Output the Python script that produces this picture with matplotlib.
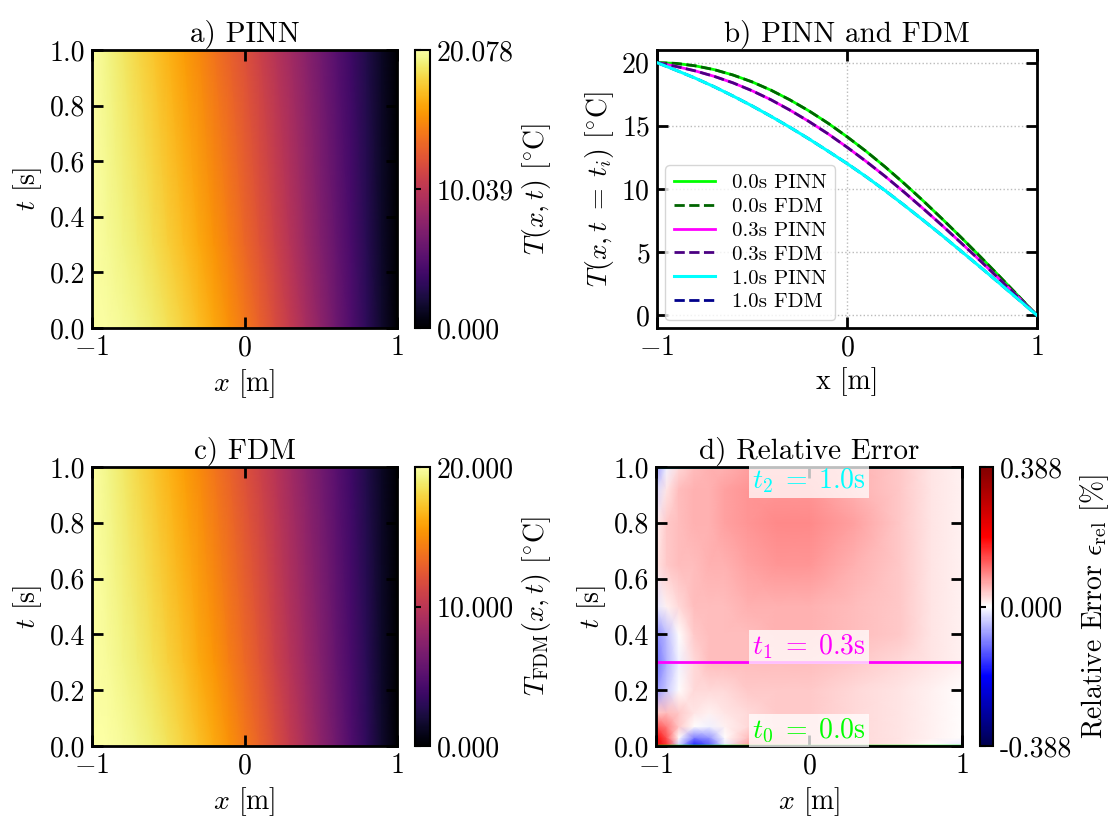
import numpy as np
from matplotlib import pyplot as plt

# temperature profiles T(x, t_i)
x_pts = [-1.0, -0.9, -0.8, -0.7, -0.6, -0.5, -0.4, -0.3, -0.2, -0.1, 0.0,
         0.1, 0.2, 0.3, 0.4, 0.5, 0.6, 0.7, 0.8, 0.9, 1.0]
T_t00 = [20.0, 19.94, 19.75, 19.45, 19.02, 18.48, 17.82, 17.05, 16.18, 15.21, 14.14,
         12.99, 11.76, 10.45, 9.08, 7.65, 6.18, 4.67, 3.13, 1.57, 0.0]
T_t03 = [20.0, 19.70, 19.35, 18.92, 18.40, 17.78, 17.06, 16.24, 15.34, 14.37, 13.31,
         12.19, 11.01, 9.76, 8.46, 7.12, 5.74, 4.34, 2.90, 1.46, 0.0]
T_t10 = [20.0, 19.40, 18.78, 18.10, 17.36, 16.58, 15.75, 14.88, 13.96, 13.00, 12.02,
         10.98, 9.88, 8.73, 7.54, 6.33, 5.09, 3.84, 2.57, 1.29, 0.0]
t_rows = [0.0, 0.3, 1.0]

# relative error field (panel d), rough readout
err_x = [-1.0, -0.93, -0.85, -0.75, -0.65, -0.55, -0.4, -0.2, 0.0, 0.3, 0.6, 0.8, 1.0]
err_t = [0.0, 0.03, 0.07, 0.12, 0.2, 0.3, 0.4, 0.5, 0.65, 0.8, 0.92, 1.0]
err = [
    [0.24, 0.16, -0.04, -0.18, -0.13, -0.02, 0.07, 0.05, 0.04, 0.03, 0.02, 0.00, -0.02],
    [0.20, 0.13, 0.00, -0.10, -0.08, 0.00, 0.05, 0.05, 0.04, 0.03, 0.02, 0.01, 0.00],
    [0.13, 0.10, 0.04, 0.00, -0.01, 0.01, 0.03, 0.04, 0.04, 0.03, 0.02, 0.01, 0.00],
    [0.04, 0.05, 0.04, 0.02, 0.01, 0.02, 0.03, 0.04, 0.04, 0.03, 0.02, 0.01, 0.00],
    [-0.08, -0.04, 0.00, 0.03, 0.03, 0.03, 0.04, 0.04, 0.04, 0.03, 0.02, 0.01, 0.00],
    [-0.11, -0.06, -0.01, 0.03, 0.05, 0.05, 0.05, 0.05, 0.05, 0.04, 0.03, 0.02, 0.01],
    [-0.09, -0.05, 0.00, 0.04, 0.05, 0.05, 0.05, 0.06, 0.06, 0.05, 0.04, 0.02, 0.01],
    [-0.02, 0.01, 0.03, 0.05, 0.05, 0.05, 0.06, 0.06, 0.06, 0.05, 0.04, 0.02, 0.01],
    [0.02, 0.04, 0.05, 0.05, 0.06, 0.06, 0.07, 0.08, 0.08, 0.06, 0.04, 0.02, 0.01],
    [0.01, 0.04, 0.05, 0.06, 0.06, 0.07, 0.08, 0.09, 0.09, 0.07, 0.04, 0.02, 0.01],
    [-0.03, 0.02, 0.05, 0.06, 0.06, 0.07, 0.08, 0.08, 0.08, 0.06, 0.04, 0.02, 0.01],
    [-0.08, -0.01, 0.03, 0.05, 0.06, 0.06, 0.07, 0.07, 0.07, 0.06, 0.04, 0.02, 0.01],
]
err_max = 0.388
pinn_max = 20.078
fdm_max = 20.0

plt.rcParams.update({
    'font.family': ['cmr10', 'DejaVu Serif'],
    'mathtext.fontset': 'cm',
    'axes.formatter.use_mathtext': True,
    'font.size': 20,
    'axes.linewidth': 2,
    'xtick.direction': 'in', 'ytick.direction': 'in',
    'xtick.top': True, 'ytick.right': True,
    'xtick.major.size': 8, 'ytick.major.size': 8,
    'xtick.major.width': 2, 'ytick.major.width': 2,
    'xtick.major.pad': 5, 'ytick.major.pad': 5,
})

fig = plt.figure(figsize=(11.13, 8.18), dpi=100)
W, H = 1113, 818


def box(l, t, r, b):
    return [l / W, 1 - b / H, (r - l) / W, (b - t) / H]


ax_a = fig.add_axes(box(92, 50, 397, 328))
cax_a = fig.add_axes(box(415, 50, 430, 328))
ax_b = fig.add_axes(box(657, 50, 1037, 328))
ax_c = fig.add_axes(box(92, 467, 397, 746))
cax_c = fig.add_axes(box(415, 467, 430, 746))
ax_d = fig.add_axes(box(656, 467, 962, 746))
cax_d = fig.add_axes(box(980, 467, 993, 746))

T_grid = np.array([T_t00, T_t03, T_t10])
t_ticks = [0, 0.2, 0.4, 0.6, 0.8, 1.0]
t_ticklabels = ['0.0', '0.2', '0.4', '0.6', '0.8', '1.0']


def style_cbar(cb, ticks, labels, clabel):
    cb.set_ticks(ticks)
    cb.set_ticklabels(labels)
    cb.outline.set_linewidth(1.5)
    cb.ax.tick_params(direction='in', length=4, width=1.5, left=True, right=False)
    cb.set_label(clabel)


def heat_panel(ax, cax, vmax, title, clabel, ticklabels):
    m = ax.pcolormesh(x_pts, t_rows, T_grid, shading='gouraud', cmap='inferno',
                      vmin=0, vmax=vmax, rasterized=True)
    ax.set_xlim(-1, 1)
    ax.set_ylim(0, 1)
    ax.set_xticks([-1, 0, 1])
    ax.set_yticks(t_ticks)
    ax.set_yticklabels(t_ticklabels)
    ax.set_xlabel(r'$x$ [m]')
    ax.set_ylabel(r'$t$ [s]')
    ax.set_title(title, fontsize=21)
    cb = fig.colorbar(m, cax=cax)
    style_cbar(cb, [0, vmax / 2, vmax], ticklabels, clabel)


heat_panel(ax_a, cax_a, pinn_max, 'a) PINN', r'$T(x,t)$ [$^{\circ}$C]',
           ['0.000', '10.039', '20.078'])
heat_panel(ax_c, cax_c, fdm_max, 'c) FDM', r'$T_{\rm FDM}(x,t)$ [$^{\circ}$C]',
           ['0.000', '10.000', '20.000'])

# panel b
ax_b.plot(x_pts, T_t00, color='lime', lw=2, label='0.0s PINN')
ax_b.plot(x_pts, T_t00, color='darkgreen', lw=2, ls='--', label='0.0s FDM')
ax_b.plot(x_pts, T_t03, color='magenta', lw=2, label='0.3s PINN')
ax_b.plot(x_pts, T_t03, color='indigo', lw=2, ls='--', label='0.3s FDM')
ax_b.plot(x_pts, T_t10, color='cyan', lw=2.2, label='1.0s PINN', zorder=4)
ax_b.plot(x_pts, T_t10, color='darkblue', lw=2, ls='--', label='1.0s FDM', zorder=3)
ax_b.set_xlim(-1, 1)
ax_b.set_ylim(-1, 21)
ax_b.set_xticks([-1, 0, 1])
ax_b.set_yticks([0, 5, 10, 15, 20])
ax_b.grid(True, ls=':', color='#bbbbbb', lw=1)
ax_b.set_xlabel('x [m]')
ax_b.set_ylabel(r'$T(x,t\;=\;t_i)$ [$^{\circ}$C]')
ax_b.set_title('b) PINN and FDM', fontsize=21)
ax_b.legend(loc='lower left', fontsize=15, handlelength=2.0, labelspacing=0.25,
            borderaxespad=0.4)

# panel d
m = ax_d.pcolormesh(err_x, err_t, np.array(err), shading='gouraud', cmap='seismic',
                    vmin=-err_max, vmax=err_max, rasterized=True)
ax_d.axhline(0.0, color='lime', lw=2.5)
ax_d.axhline(0.3, color='magenta', lw=2)
ax_d.axhline(1.0, color='cyan', lw=2)
bb = dict(boxstyle='square,pad=0.1', fc='white', ec='none', alpha=0.75)
ax_d.text(0, 0.95, r'$t_2\;=\;1.0$s', color='cyan', ha='center', va='center', bbox=bb)
ax_d.text(0, 0.355, r'$t_1\;=\;0.3$s', color='magenta', ha='center', va='center', bbox=bb)
ax_d.text(0, 0.055, r'$t_0\;=\;0.0$s', color='lime', ha='center', va='center', bbox=bb)
ax_d.set_xlim(-1, 1)
ax_d.set_ylim(0, 1)
ax_d.set_xticks([-1, 0, 1])
ax_d.set_yticks(t_ticks)
ax_d.set_yticklabels(t_ticklabels)
ax_d.set_xlabel(r'$x$ [m]')
ax_d.set_ylabel(r'$t$ [s]')
ax_d.set_title('d) Relative Error', fontsize=21)
cb = fig.colorbar(m, cax=cax_d)
style_cbar(cb, [-err_max, 0, err_max], ['-0.388', '0.000', '0.388'],
           r'Relative Error $\epsilon_{\rm rel}$ [%]')

fig.savefig('out.png', dpi=100)
